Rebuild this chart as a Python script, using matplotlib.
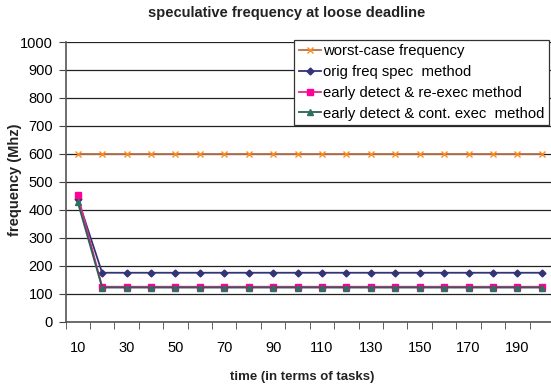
import numpy as np
import matplotlib.pyplot as plt

plt.rcParams['font.family'] = ['Liberation Sans', 'DejaVu Sans']

tasks = list(range(10, 201, 10))
worst_case = [600] * 20
orig_spec = [440] + [175] * 19
re_exec = [452] + [125] * 19
cont_exec = [428] + [122] * 19

series = [
    ('worst-case frequency', worst_case, '#b8704a', '#ff8c1a', 'x', 5),
    ('orig freq spec  method', orig_spec, '#333377', '#333377', 'D', 3.5),
    ('early detect & re-exec method', re_exec, '#e0288c', '#ff0099', 's', 4.5),
    ('early detect & cont. exec  method', cont_exec, '#2f5f55', '#2f6f60', '^', 5),
]

W, H = 551, 392
fig = plt.figure(figsize=(W / 100, H / 100), dpi=100)
ax = fig.add_axes([65.5 / W, 1 - 321.7 / H, 488.5 / W, 279.7 / H])

x = np.arange(len(tasks))
for name, vals, lc, mc, mk, ms in series:
    ax.plot(x, vals, color=lc, lw=1.3, marker=mk, markersize=ms,
            markerfacecolor=mc, markeredgecolor=mc, label=name, zorder=3)

ax.set_xlim(-0.5, len(tasks) - 0.5)
ax.set_ylim(0, 1000)
ax.set_yticks(range(0, 1001, 100))
ax.yaxis.grid(True, color='#222222', lw=0.9)
ax.set_axisbelow(True)

ax.set_xticks(x[::2])
ax.set_xticklabels([str(t) for t in tasks[::2]])
ax.set_xticks(np.arange(-0.5, len(tasks)), minor=True)
ax.tick_params(axis='x', which='major', length=0, pad=14, labelsize=10.5)
ax.tick_params(axis='x', which='minor', length=5, color='#444444')
ax.tick_params(axis='y', length=5, color='#444444', labelsize=10.5, pad=4)

for side in ('top', 'right'):
    ax.spines[side].set_visible(False)
for side in ('left', 'bottom'):
    ax.spines[side].set_color('#555555')
    ax.spines[side].set_linewidth(1.2)

fig.text(15 / W, 1 - 180 / H, 'frequency (Mhz)', rotation=90, fontsize=10.5,
         fontweight='bold', ha='center', va='center', color='#222222')
fig.text(302 / W, 1 - 377 / H, 'time (in terms of tasks)', fontsize=9.5,
         fontweight='bold', ha='center', va='center', color='#222222')
fig.text(287 / W, 1 - 13 / H, 'speculative frequency at loose deadline', fontsize=10.5,
         fontweight='bold', ha='center', va='center', color='#222222')

leg = ax.legend(loc='upper right', bbox_to_anchor=(549 / W, 1 - 40 / H),
                bbox_transform=fig.transFigure, fontsize=10.7, frameon=True,
                fancybox=False, edgecolor='#333333', framealpha=1,
                borderpad=0.3, labelspacing=0.45, handlelength=1.5,
                handletextpad=0.15, borderaxespad=0)
leg.get_frame().set_linewidth(0.9)

fig.savefig('out.png', dpi=100)
